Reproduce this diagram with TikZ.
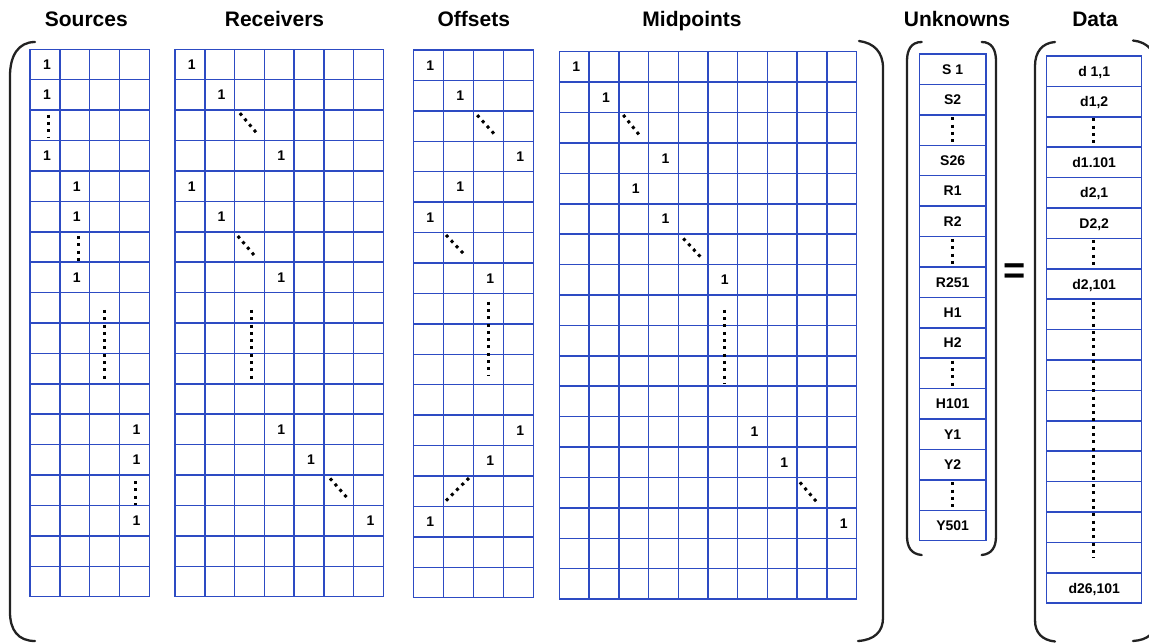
\documentclass[tikz,border=0pt]{standalone}
\usepackage{fontspec}
\setmainfont{Liberation Sans}
\definecolor{gridblue}{RGB}{45,75,195}
\definecolor{bracecol}{RGB}{34,34,34}
\tikzset{
  gridline/.style={draw=gridblue, line width=1.5pt, line cap=rect},
  one/.style={font=\bfseries\fontsize{14}{14}\selectfont, inner sep=0pt, text height=10pt, text depth=0pt, xshift=2pt},
  lbl/.style={font=\bfseries\fontsize{14}{14}\selectfont, inner sep=0pt, text height=10pt, text depth=0pt},
  title/.style={font=\bfseries\fontsize{21}{21}\selectfont, inner sep=0pt, anchor=base},
  dotline/.style={draw=black, line width=3pt, dash pattern=on 3pt off 4.3pt},
  bracket/.style={draw=bracecol, line width=2.3pt, line cap=round},
}
\newcommand{\gridlines}[2]{%
  \foreach \i in {0,...,#1} \draw[gridline] (\i,0) -- (\i,#2);
  \foreach \j in {0,...,#2} \draw[gridline] (0,\j) -- (#1,\j);
}
\begin{document}
\begin{tikzpicture}[x=1pt,y=-1pt]
\useasboundingbox (0,0) rectangle (1149,643);
\fill[white] (0,0) rectangle (1149,643);
\clip (0,0) rectangle (1149,643);

% titles
\node[title] (tsrc) at (86.3,26.7) {Sources};
\node[title] (trcv) at (274.5,26.7) {Receivers};
\node[title] (toff) at (473.8,26.7) {Offsets};
\node[title] (tmid) at (692,26.7) {Midpoints};
\node[title] (tunk) at (957,26.7) {Unknowns};
\node[title] (tdat) at (1095,26.7) {Data};

% Sources
\begin{scope}[shift={(30,49.3)}, x=29.83pt, y=-30.41pt]
  \gridlines{4}{18}
  \foreach \r/\c [count=\k] in {1/1,2/1,4/1,5/2,6/2,8/2,13/4,14/4,16/4}
    \node[one] (src\k) at (\c-0.5,\r-0.5) {1};
  \draw[dotline] (0.61,2.15) -- (0.61,2.92);
  \draw[dotline] (1.62,6.14) -- (1.62,6.98);
  \draw[dotline] (2.49,8.57) -- (2.49,10.97);
  \draw[dotline] (3.55,14.2) -- (3.55,14.98);
\end{scope}

% Receivers
\begin{scope}[shift={(175,49.3)}, x=29.76pt, y=-30.41pt]
  \gridlines{7}{18}
  \foreach \r/\c [count=\k] in {1/1,2/2,4/4,5/1,6/2,8/4,13/4,14/5,16/7}
    \node[one] (rcv\k) at (\c-0.5,\r-0.5) {1};
  \draw[dotline] (2.18,2.1) -- (2.8,2.82);
  \draw[dotline] (2.11,6.14) -- (2.72,6.84);
  \draw[dotline] (2.58,8.57) -- (2.58,10.97);
  \draw[dotline] (5.21,14.11) -- (5.82,14.79);
\end{scope}

% Offsets
\begin{scope}[shift={(413.3,50)}, x=30pt, y=-30.43pt]
  \gridlines{4}{18}
  \foreach \r/\c [count=\k] in {1/1,2/2,4/4,5/2,6/1,8/3,13/4,14/3,16/1}
    \node[one] (off\k) at (\c-0.5,\r-0.5) {1};
  \draw[dotline] (2.13,2.14) -- (2.78,2.85);
  \draw[dotline] (1.09,6.08) -- (1.72,6.74);
  \draw[dotline] (2.5,8.27) -- (2.5,10.71);
  \draw[dotline] (1.09,14.81) -- (1.87,14.05);
\end{scope}

% Midpoints
\begin{scope}[shift={(559.3,51.7)}, x=29.74pt, y=-30.41pt]
  \gridlines{10}{18}
  \foreach \r/\c [count=\k] in {1/1,2/2,4/4,5/3,6/4,8/6,13/7,14/8,16/10}
    \node[one] (mid\k) at (\c-0.5,\r-0.5) {1};
  \draw[dotline] (2.15,2.08) -- (2.74,2.8);
  \draw[dotline] (4.17,6.14) -- (4.79,6.79);
  \draw[dotline] (5.57,8.49) -- (5.57,10.93);
  \draw[dotline] (8.09,14.16) -- (8.71,14.87);
\end{scope}

% Unknowns
\begin{scope}[shift={(919.3,54)}, x=66.7pt, y=-30.42pt]
  \gridlines{1}{16}
  \foreach \r/\t [count=\k] in {1/S 1,2/S2,4/S26,5/R1,6/R2,8/R251,9/H1,10/H2,12/H101,13/Y1,14/Y2,16/Y501}
    \node[lbl] (unk\k) at (0.5,\r-0.5) {\t};
  \draw[dotline] (0.5,2.08) -- (0.5,2.89);
  \draw[dotline] (0.5,6.08) -- (0.5,6.96);
  \draw[dotline] (0.5,10.08) -- (0.5,10.91);
  \draw[dotline] (0.5,14.08) -- (0.5,14.88);
\end{scope}

% Data
\begin{scope}[shift={(1046.7,56)}, x=95pt, y=-30.4pt]
  \gridlines{1}{18}
  \foreach \r/\t [count=\k] in {1/{d 1,1},2/{d1,2},4/d1.101,5/{d2,1},6/{D2,2},8/{d2,101},18/{d26,101}}
    \node[lbl] (dat\k) at (0.5,\r-0.5) {\t};
  \draw[dotline] (0.49,2.05) -- (0.49,2.89);
  \draw[dotline] (0.49,6.05) -- (0.49,6.93);
  \draw[dotline] (0.49,8.08) -- (0.49,16.52);
\end{scope}

% equals sign
\node[font=\bfseries\fontsize{38}{38}\selectfont, inner sep=0pt] (eq) at (1014.7,273.7) {=};

% brackets
\draw[bracket] (35,42) .. controls (18,42) and (10,56) .. (10,76) -- (10,612) .. controls (10,630) and (18,641) .. (35,641);
\draw[bracket] (859,41) .. controls (874,43) and (883,52) .. (883,68) -- (883,618) .. controls (883,632) and (874,640) .. (858,641);
\draw[bracket] (921.7,42) .. controls (911,42) and (907,50) .. (907,61) -- (907,536) .. controls (907,547) and (911,554) .. (921.7,555);
\draw[bracket] (981.7,42) .. controls (992,42) and (996,50) .. (996,61) -- (996,536) .. controls (996,547) and (992,554) .. (981.7,555);
\draw[bracket] (1055,42) .. controls (1042,43) and (1035,52) .. (1035,66) -- (1035,620) .. controls (1035,633) and (1042,640) .. (1055,641.5);
\draw[bracket] (1133,40.5) .. controls (1148,42) and (1156,52) .. (1156,66) -- (1156,620) .. controls (1156,633) and (1148,640) .. (1133,641);
\end{tikzpicture}
\end{document}
